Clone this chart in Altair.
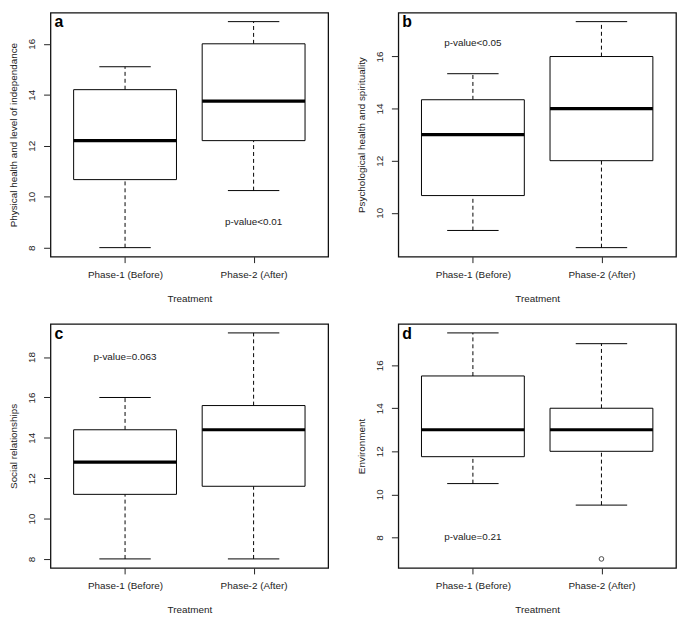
import altair as alt
import pandas as pd

groups = ["Phase-1 (Before)", "Phase-2 (After)"]
positions = [1, 2]

# Panel a
a_low = [8.0, 10.24]
a_q1 = [10.67, 12.2]
a_med = [12.2, 13.75]
a_q3 = [14.2, 16.0]
a_high = [15.1, 16.87]

# Panel b
b_low = [9.32, 8.66]
b_q1 = [10.66, 12.0]
b_med = [13.0, 14.0]
b_q3 = [14.34, 16.0]
b_high = [15.34, 17.34]

# Panel c
c_low = [8.0, 8.0]
c_q1 = [11.2, 11.6]
c_med = [12.8, 14.4]
c_q3 = [14.4, 15.6]
c_high = [16.0, 19.2]

# Panel d
d_low = [10.5, 9.5]
d_q1 = [11.75, 12.0]
d_med = [13.0, 13.0]
d_q3 = [15.5, 14.0]
d_high = [17.5, 17.0]
d_out_pos = [2]
d_out_val = [7.0]

letters = ["a", "b", "c", "d"]
y_titles = [
    "Physical health and level of independance",
    "Psychological health and spirituality",
    "Social relationships",
    "Environment",
]
p_texts = ["p-value<0.01", "p-value<0.05", "p-value=0.063", "p-value=0.21"]
p_pos = [2, 1, 1, 1]
p_val = [9.0, 16.5, 18.0, 8.0]

FONT = "Liberation Sans"
W, H = 281, 247
BOXWEX = 0.8
STAPLE = 0.2


def panel(low, q1, med, q3, high, letter, ytitle, ptext, ppos, pval,
          out_pos=None, out_val=None):
    df = pd.DataFrame({"pos": positions, "group": groups, "low": low, "q1": q1,
                       "med": med, "q3": q3, "high": high})
    allv = low + high + (out_val or [])
    lo, hi = min(allv), max(allv)
    r = hi - lo
    ydom = [lo - 0.04 * r, hi + 0.04 * r]
    yvals = [v for v in range(0, 30, 2) if ydom[0] <= v <= ydom[1]]
    label_expr = f"datum.value == {positions[0]} ? '{groups[0]}' : '{groups[1]}'"

    xscale = alt.Scale(domain=[0.42, 2.58], nice=False, zero=False)
    yscale = alt.Scale(domain=ydom, nice=False, zero=False)
    xaxis = alt.Axis(values=positions, labelExpr=label_expr, title="Treatment",
                     grid=False, domain=False, tickSize=6, labelPadding=7,
                     titlePadding=14, labelAngle=0)
    yaxis = alt.Axis(values=yvals, title=ytitle, grid=False, domain=False,
                     tickSize=7, labelPadding=7, labelAngle=-90,
                     labelAlign="center", labelBaseline="bottom",
                     titlePadding=8, format="d")

    def X(f):
        return alt.X(f, type="quantitative", scale=xscale, axis=xaxis)

    def Y(f):
        return alt.Y(f, type="quantitative", scale=yscale, axis=yaxis)

    base = alt.Chart(df).transform_calculate(
        bl=f"datum.pos - {BOXWEX / 2}", br=f"datum.pos + {BOXWEX / 2}",
        sl=f"datum.pos - {STAPLE}", sr=f"datum.pos + {STAPLE}")

    whisk_lo = base.mark_rule(color="black", strokeDash=[4, 3], strokeWidth=1).encode(
        x=X("pos"), y=Y("low"), y2="q1")
    whisk_hi = base.mark_rule(color="black", strokeDash=[4, 3], strokeWidth=1).encode(
        x=X("pos"), y=Y("q3"), y2="high")
    cap_lo = base.mark_rule(color="black", strokeWidth=1).encode(
        x=X("sl"), x2="sr", y=Y("low"))
    cap_hi = base.mark_rule(color="black", strokeWidth=1).encode(
        x=X("sl"), x2="sr", y=Y("high"))
    box = base.mark_rect(fill="white", stroke="black", strokeWidth=1).encode(
        x=X("bl"), x2="br", y=Y("q1"), y2="q3")
    median = base.mark_rule(color="black", strokeWidth=3.2).encode(
        x=X("bl"), x2="br", y=Y("med"))

    ptxt = alt.Chart(pd.DataFrame({"pos": [ppos], "v": [pval], "t": [ptext]})).mark_text(
        font=FONT, fontSize=10, color="#222").encode(x=X("pos"), y=Y("v"), text="t:N")
    let = alt.Chart(pd.DataFrame({"t": [letter]})).mark_text(
        font=FONT, fontSize=16, fontWeight="bold", align="left", baseline="alphabetic",
        color="black").encode(x=alt.value(4), y=alt.value(15), text="t:N")

    layers = [whisk_lo, whisk_hi, cap_lo, cap_hi, box, median, ptxt, let]
    if out_pos:
        outl = alt.Chart(pd.DataFrame({"pos": out_pos, "v": out_val})).mark_point(
            shape="circle", filled=False, size=22, color="black", strokeWidth=1).encode(
            x=X("pos"), y=Y("v"))
        layers.append(outl)
    return alt.layer(*layers).properties(width=W, height=H)


pa = panel(a_low, a_q1, a_med, a_q3, a_high, letters[0], y_titles[0], p_texts[0], p_pos[0], p_val[0])
pb = panel(b_low, b_q1, b_med, b_q3, b_high, letters[1], y_titles[1], p_texts[1], p_pos[1], p_val[1])
pc = panel(c_low, c_q1, c_med, c_q3, c_high, letters[2], y_titles[2], p_texts[2], p_pos[2], p_val[2])
pd_ = panel(d_low, d_q1, d_med, d_q3, d_high, letters[3], y_titles[3], p_texts[3], p_pos[3], p_val[3],
            d_out_pos, d_out_val)

chart = alt.vconcat(
    alt.hconcat(pa, pb, spacing=27),
    alt.hconcat(pc, pd_, spacing=27),
    spacing=19,
).configure_view(stroke="#111", strokeWidth=1.3).configure_axis(
    labelFont=FONT, titleFont=FONT, labelFontSize=10, titleFontSize=10,
    titleFontWeight="normal", labelColor="#222", titleColor="#222",
    tickColor="#222", tickWidth=1,
).properties(padding=0, background="white")

chart.save("out.html", embed_options={"renderer": "svg", "actions": False})
